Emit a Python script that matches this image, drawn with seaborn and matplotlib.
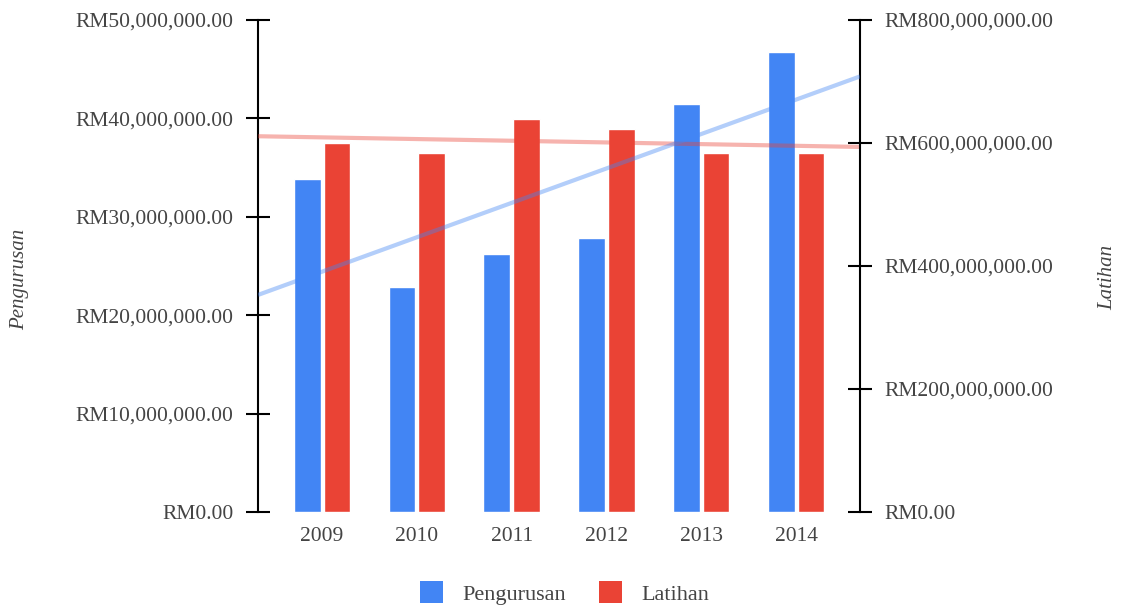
import numpy as np
import pandas as pd
import matplotlib
matplotlib.use("Agg")
import matplotlib.pyplot as plt
import seaborn as sns
from matplotlib.patches import Patch
from matplotlib.ticker import FuncFormatter, MultipleLocator

# --- Data ---
years = ["2009", "2010", "2011", "2012", "2013", "2014"]
pengurusan = [33.8e6, 22.9e6, 26.2e6, 27.8e6, 41.5e6, 46.8e6]
latihan = [600e6, 584e6, 639e6, 623e6, 584e6, 584e6]
series = ["Pengurusan", "Latihan"]
colors = {"Pengurusan": "#4285F4", "Latihan": "#EA4335"}

sns.set_theme(style="white")
plt.rcParams["font.family"] = ["Liberation Serif", "DejaVu Serif"]
text_color = "#444444"

fig = plt.figure(figsize=(11.22, 6.07), dpi=100)
ax1 = fig.add_axes([0.23, 0.1565, 0.5365, 0.8105])
ax2 = ax1.twinx()
ax3 = ax1.twinx()

df_p = pd.DataFrame({"year": years, "value": pengurusan, "series": "Pengurusan"})
df_l = pd.DataFrame({"year": years, "value": latihan, "series": "Latihan"})

# both hue levels listed + dodge=True so each axis keeps its own slot
sns.barplot(data=df_p, x="year", y="value", hue="series", hue_order=series,
            order=years, palette=colors, width=0.625, gap=0.1, dodge=True,
            saturation=1, legend=False, ax=ax1)
sns.barplot(data=df_l, x="year", y="value", hue="series", hue_order=series,
            order=years, palette=colors, width=0.625, gap=0.1, dodge=True,
            saturation=1, legend=False, ax=ax2)

ax1.set_xlim(-0.675, 5.675)
ax1.set_ylim(0, 50e6)
ax2.set_ylim(0, 800e6)
ax3.set_ylim(0, 50e6)

# --- Trendlines ---
xs = np.array(ax1.get_xlim())
idx = np.arange(len(years))
fit_p = np.polyfit(idx, pengurusan, 1)
fit_l = np.polyfit(idx, latihan, 1)
ax3.plot(xs, np.polyval(fit_p, xs), color=colors["Pengurusan"], lw=3, alpha=0.4,
         solid_capstyle="butt")
ax2.plot(xs, np.polyval(fit_l, xs), color=colors["Latihan"], lw=3, alpha=0.4,
         solid_capstyle="butt")
ax1.set_xlim(xs)

# --- Axes styling ---
fmt = FuncFormatter(lambda v, p: f"RM{v:,.2f}")
ax1.yaxis.set_major_locator(MultipleLocator(10e6))
ax2.yaxis.set_major_locator(MultipleLocator(200e6))
ax1.yaxis.set_major_formatter(fmt)
ax2.yaxis.set_major_formatter(fmt)

for ax in (ax1, ax2, ax3):
    ax.set_xlabel("")
    ax.set_ylabel("")
    ax.set_facecolor("none")
    for s in ax.spines.values():
        s.set_visible(False)

ax1.spines["left"].set_visible(True)
ax1.spines["left"].set_color("black")
ax1.spines["left"].set_linewidth(1.5)
ax2.spines["right"].set_visible(True)
ax2.spines["right"].set_color("black")
ax2.spines["right"].set_linewidth(1.5)

for ax in (ax1, ax2):
    ax.tick_params(axis="y", direction="inout", length=17, width=1.5, pad=9,
                   color="black", labelcolor=text_color, labelsize=15.5)
ax1.tick_params(axis="y", left=True, right=False)
ax2.tick_params(axis="y", left=False, right=True)
ax1.tick_params(axis="x", length=0, pad=11, labelcolor=text_color, labelsize=15.5)
ax2.tick_params(axis="x", length=0, labelbottom=False)
ax3.set_yticks([])
ax3.tick_params(axis="x", length=0, labelbottom=False)

fig.text(20 / 1122, 1 - 279 / 607, "Pengurusan", rotation=90, style="italic",
         ha="center", va="center", fontsize=15, color=text_color)
fig.text(1108 / 1122, 1 - 277 / 607, "Latihan", rotation=90, style="italic",
         ha="center", va="center", fontsize=15, color=text_color)

handles = [Patch(facecolor=colors[s], edgecolor="none", label=s) for s in series]
leg = fig.legend(handles=handles, loc="center", bbox_to_anchor=(0.503, 0.023),
                 ncol=2, frameon=False, handlelength=1.05, handleheight=1.15,
                 handletextpad=0.85, columnspacing=1.5, fontsize=16)
for t in leg.get_texts():
    t.set_color(text_color)

fig.savefig("out.png", dpi=100)
